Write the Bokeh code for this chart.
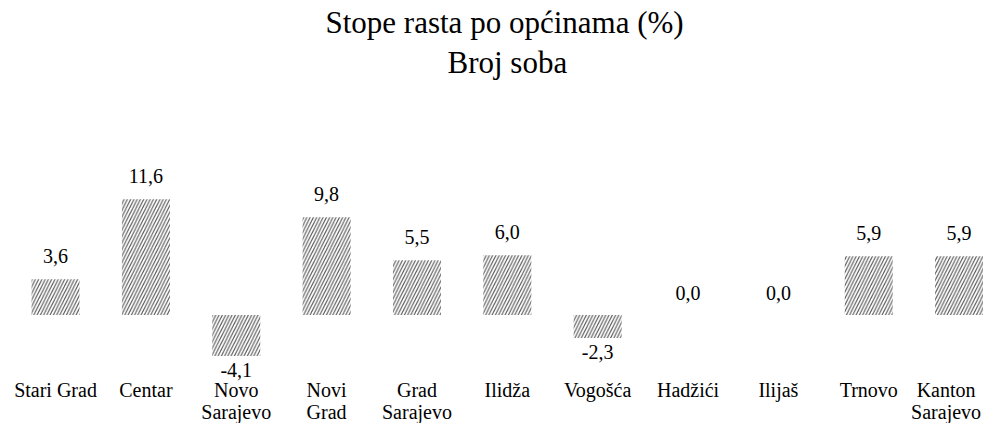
from bokeh.plotting import figure
from bokeh.models import ColumnDataSource, Range1d, Title, LabelSet
from bokeh.core.properties import value
from bokeh.embed import file_html
from bokeh.resources import INLINE

categories = ["Stari Grad", "Centar", "Novo\nSarajevo", "Novi\nGrad", "Grad\nSarajevo",
              "Ilidža", "Vogošća", "Hadžići", "Ilijaš", "Trnovo", "Kanton\nSarajevo"]
values = [3.6, 11.6, -4.1, 9.8, 5.5, 6.0, -2.3, 0.0, 0.0, 5.9, 5.9]
labels = ["3,6", "11,6", "-4,1", "9,8", "5,5", "6,0", "-2,3", "0,0", "0,0", "5,9", "5,9"]

xs = list(range(len(categories)))
offsets = [-14 if v < 0 else (22 if v == 0 else 23.5) for v in values]
line1 = [c.split("\n")[0] for c in categories]
line2 = [c.split("\n")[1] if "\n" in c else "" for c in categories]
# keep the last (rightmost) category label inside the canvas
xoff = [0] * (len(xs) - 1) + [-13]

Y0, Y1 = -10.85, 23.58
src = ColumnDataSource(dict(x=xs, top=values, lab=labels, off=offsets,
                            l1=line1, l2=line2, yb=[Y0] * len(xs), xoff=xoff))

FONT = "Liberation Serif"

p = figure(width=983, height=423, output_backend="svg", toolbar_location=None,
           x_range=Range1d(-0.609, 10.27), y_range=Range1d(Y0, Y1),
           min_border_left=0, min_border_right=0, min_border_bottom=0, min_border_top=0)
p.title = None
p.add_layout(Title(text="Broj soba", align="left", text_font=FONT, text_font_size="31px",
                   text_font_style="normal", text_color="black", standoff=0, offset=447), "above")
p.add_layout(Title(text="Stope rasta po općinama (%)", align="left", text_font=FONT,
                   text_font_size="31px", text_font_style="normal", text_color="black",
                   standoff=5, offset=325), "above")

p.vbar(x="x", top="top", bottom=0, width=0.531, source=src,
       fill_color="white", line_color=None,
       hatch_pattern="/", hatch_color="#555555", hatch_alpha=1.0,
       hatch_scale=6.5, hatch_weight=1.1)

p.add_layout(LabelSet(x="x", y="top", text="lab", y_offset="off", source=src,
                      text_align="center", text_baseline="middle",
                      text_font=FONT, text_font_size="20px", text_color="black"))

p.text(x="x", y="yb", text="l1", x_offset="xoff", y_offset=-34, source=src,
       text_align="center", text_baseline="middle", text_font=value(FONT),
       text_font_size="20px", text_color="black")
p.text(x="x", y="yb", text="l2", x_offset="xoff", y_offset=-11.5, source=src,
       text_align="center", text_baseline="middle", text_font=value(FONT),
       text_font_size="20px", text_color="black")

p.xaxis.visible = False
p.yaxis.visible = False
p.xgrid.visible = False
p.ygrid.visible = False
p.outline_line_color = None

open("out.html", "w").write(file_html(p, INLINE))
